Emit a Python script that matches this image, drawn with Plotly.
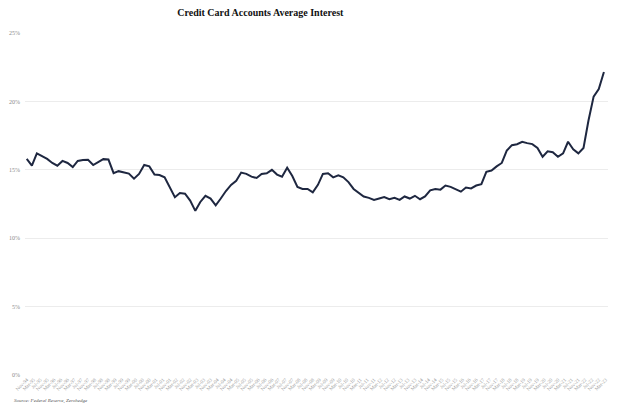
import plotly.graph_objects as go
import pandas as pd

dates = pd.date_range("1994-11-01", periods=114, freq="3MS").strftime("%Y-%m-%d").tolist()
rates = [
    15.8, 15.3, 16.2, 16.0, 15.8, 15.5, 15.3, 15.65, 15.5, 15.2,
    15.65, 15.72, 15.73, 15.35, 15.55, 15.78, 15.75, 14.75, 14.9, 14.8,
    14.72, 14.35, 14.7, 15.35, 15.25, 14.65, 14.62, 14.45, 13.7, 13.0,
    13.3, 13.25, 12.75, 12.0, 12.65, 13.1, 12.9, 12.4, 12.9, 13.45,
    13.9, 14.2, 14.8, 14.7, 14.5, 14.4, 14.7, 14.75, 15.0, 14.65,
    14.5, 15.15, 14.55, 13.75, 13.6, 13.6, 13.35, 13.9, 14.7, 14.75,
    14.45, 14.6, 14.45, 14.1, 13.6, 13.3, 13.05, 12.95, 12.8, 12.9,
    13.0, 12.85, 12.95, 12.8, 13.05, 12.9, 13.1, 12.85, 13.05, 13.5,
    13.6, 13.55, 13.85, 13.75, 13.55, 13.4, 13.7, 13.64, 13.85, 13.95,
    14.85, 14.95, 15.25, 15.5, 16.4, 16.8, 16.87, 17.05, 16.95, 16.88,
    16.6, 15.95, 16.35, 16.28, 15.95, 16.2, 17.05, 16.5, 16.2, 16.6,
    18.6, 20.35, 20.9, 22.15,
]
y_ticks = [0, 5, 10, 15, 20, 25]
y_tick_labels = ["0%", "5%", "10%", "15%", "20%", "25%"]
title = "Credit Card Accounts Average Interest"
source = "Source: Federal Reserve, Zerohedge"

fig = go.Figure()
fig.add_trace(go.Scatter(
    x=dates, y=rates, mode="lines",
    line=dict(color="#1e2740", width=2),
    hoverinfo="skip",
))

fig.update_layout(
    width=620, height=412,
    margin=dict(l=17, r=20, t=25, b=45),
    paper_bgcolor="white", plot_bgcolor="white",
    showlegend=False,
    title=dict(text="<b>" + title + "</b>", xref="container", x=0.407, xanchor="center",
               yref="container", y=0.988, yanchor="middle",
               font=dict(family="Liberation Serif", size=10, color="#111111")),
    xaxis=dict(
        type="date", automargin=False,
        range=["1994-10-01", "2023-04-15"],
        showgrid=False, zeroline=False, showline=False,
        dtick="M4", tick0="1994-11-01", tickformat="%b-%y",
        tickangle=-45, ticks="",
        tickfont=dict(family="Liberation Serif", size=5, color="#9a9a9a"),
    ),
    yaxis=dict(
        range=[0, 25], automargin=False,
        tickvals=y_ticks, ticktext=y_tick_labels,
        showgrid=True, gridcolor="#ececec", gridwidth=1,
        zeroline=False, showline=False, ticks="",
        ticklabelstandoff=4,
        tickfont=dict(family="Liberation Serif", size=6, color="#8a8a8a"),
    ),
)

fig.add_annotation(
    text="<i>" + source + "</i>", xref="paper", yref="paper",
    x=-0.022, y=-0.076, xanchor="left", yanchor="middle", showarrow=False,
    font=dict(family="Liberation Serif", size=5, color="#555555"),
)

fig.write_html("out.html")
